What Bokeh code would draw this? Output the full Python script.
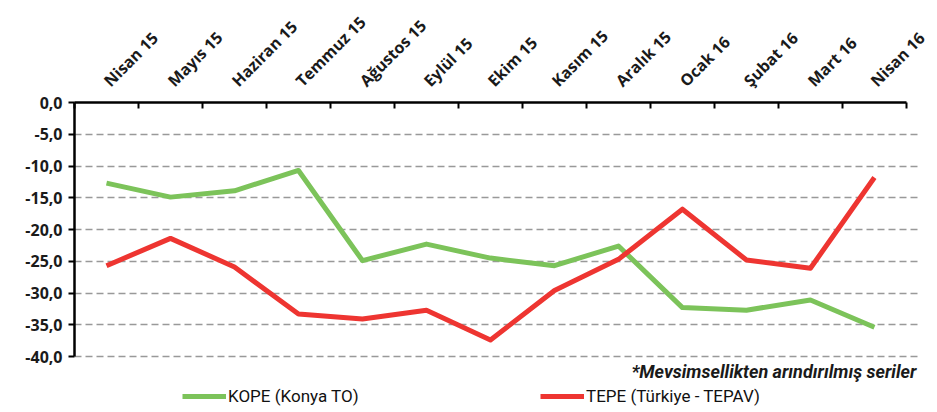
from bokeh.plotting import figure
from bokeh.models import (Range1d, FixedTicker, CustomJSTickFormatter, Legend,
                          LegendItem, Label)
from bokeh.embed import file_html
from bokeh.resources import INLINE

months = ["Nisan 15", "Mayıs 15", "Haziran 15", "Temmuz 15", "Ağustos 15",
          "Eylül 15", "Ekim 15", "Kasım 15", "Aralık 15", "Ocak 16",
          "Şubat 16", "Mart 16", "Nisan 16"]
kope = [-12.7, -14.9, -13.9, -10.7, -24.9, -22.3, -24.5, -25.7, -22.6,
        -32.3, -32.7, -31.1, -35.4]
tepe = [-25.7, -21.4, -25.9, -33.3, -34.1, -32.7, -37.4, -29.6, -24.7,
        -16.8, -24.8, -26.1, -11.8]
y_ticks = [0, -5, -10, -15, -20, -25, -30, -35, -40]
kope_name = "KOPE (Konya TO)"
tepe_name = "TEPE (Türkiye - TEPAV)"
note = "*Mevsimsellikten arındırılmış seriler"

n = len(months)
xs = [i + 0.5 for i in range(n)]
y_min = min(y_ticks)

p = figure(width=929, height=411, output_backend="svg", toolbar_location=None,
           x_axis_location="above",
           x_range=Range1d(0, n + 0.22), y_range=Range1d(y_min - 8.5, 0),
           min_border_left=74, min_border_right=9, min_border_top=101,
           min_border_bottom=1)
p.outline_line_color = None
p.background_fill_color = "white"
p.border_fill_color = "white"

# x axis (top)
xa = p.xaxis[0]
xa.bounds = (0, n)
xa.ticker = FixedTicker(ticks=xs, minor_ticks=list(range(n + 1)))
xa.formatter = CustomJSTickFormatter(args=dict(labels=months),
                                     code="return labels[Math.floor(tick)];")
xa.major_label_orientation = 0.785398
xa.major_tick_in = 0
xa.major_tick_out = 0
xa.minor_tick_in = 6
xa.minor_tick_out = 0
xa.minor_tick_line_color = "black"
xa.minor_tick_line_width = 2
xa.axis_line_color = "black"
xa.axis_line_width = 2.5
xa.major_label_text_font = "Open Sans"
xa.major_label_text_font_style = "bold"
xa.major_label_text_font_size = "16px"
xa.major_label_text_color = "#1a1a1a"
xa.major_label_standoff = 19

# y axis
ya = p.yaxis[0]
ya.bounds = (y_min, 0)
ya.ticker = FixedTicker(ticks=y_ticks)
ya.formatter = CustomJSTickFormatter(code="return tick.toFixed(1).replace('.', ',');")
ya.major_tick_in = 0
ya.major_tick_out = 6
ya.major_tick_line_width = 2
ya.minor_tick_line_color = None
ya.axis_line_color = "black"
ya.axis_line_width = 2.5
ya.major_label_text_font = "Open Sans"
ya.major_label_text_font_style = "bold"
ya.major_label_text_font_size = "16px"
ya.major_label_text_color = "#1a1a1a"
ya.major_label_standoff = 6

p.xgrid.grid_line_color = None
p.ygrid.bounds = (0, n)
p.ygrid.grid_line_color = "#999999"
p.ygrid.grid_line_dash = "7 4"
p.ygrid.grid_line_width = 1.5

r1 = p.line(xs, kope, line_color="#7CC35A", line_width=5, line_join="round")
r2 = p.line(xs, tepe, line_color="#EE3531", line_width=5, line_join="round")

for name, r, loc in [(kope_name, r1, (108, 4)), (tepe_name, r2, (466, 4))]:
    lg = Legend(items=[LegendItem(label=name, renderers=[r])], location=loc,
                orientation="horizontal", padding=0, margin=0, border_line_color=None,
                background_fill_alpha=0, glyph_width=44, glyph_height=20,
                label_standoff=2, label_text_font="Roboto",
                label_text_font_size="17px", label_text_color="#111111")
    p.add_layout(lg)

p.add_layout(Label(x=n, y=y_min, x_offset=10, y_offset=-15, text=note,
                   text_align="right", text_baseline="middle",
                   text_font="Roboto", text_font_style="bold italic",
                   text_font_size="18px", text_color="#1a1a1a"))

open("out.html", "w").write(file_html(p, INLINE))
